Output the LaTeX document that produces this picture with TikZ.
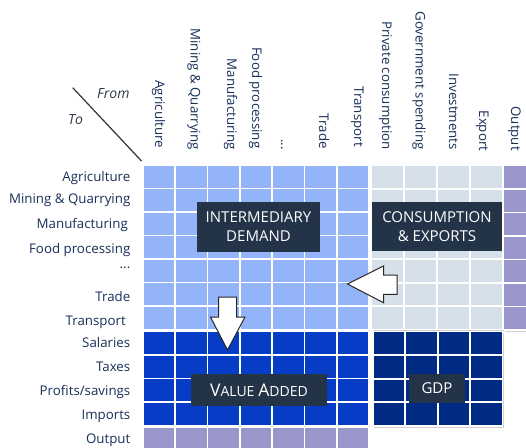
\documentclass[tikz,border=0pt]{standalone}
\usepackage{fontspec}
\setmainfont{Open Sans}
\usetikzlibrary{shadows}
\definecolor{interC}{HTML}{94B4FA}
\definecolor{consC}{HTML}{D6E0EA}
\definecolor{outC}{HTML}{9996CC}
\definecolor{vaC}{HTML}{073DC6}
\definecolor{gdpC}{HTML}{012A85}
\definecolor{boxC}{HTML}{233448}
\definecolor{labC}{HTML}{18305A}
\definecolor{lineC}{HTML}{333333}
\definecolor{cornerC}{HTML}{333B48}
\newcommand\gridblock[7]{%
  \fill[#7, blockshadow] (#1,#2) rectangle (#3,#4);
  \foreach \k in {0,...,#5}{\pgfmathsetmacro\gx{#1+\k*(#3-#1)/#5}\draw[gridline] (\gx,#2) -- (\gx,#4);}
  \foreach \k in {0,...,#6}{\pgfmathsetmacro\gy{#2+\k*(#4-#2)/#6}\draw[gridline] (#1,\gy) -- (#3,\gy);}
}
\begin{document}
\begin{tikzpicture}[x=1pt,y=-1pt,
  gridline/.style={white, line width=1.8pt},
  blockshadow/.style={drop shadow={shadow xshift=1.2pt,shadow yshift=-1.5pt,opacity=.3,fill=black!60}},
  rowlab/.style={anchor=base east, inner sep=0pt, text=labC, font=\fontsize{13.3}{16}\selectfont},
  collab/.style={rotate=-90, anchor=base east, inner sep=0pt, text=labC, font=\fontsize{13.3}{16}\selectfont},
  cornerlab/.style={anchor=base west, inner sep=0pt, text=cornerC, font=\fontsize{14}{16}\selectfont\itshape},
  labbox/.style={fill=boxC, text=white, align=center, inner sep=0pt, font=\fontsize{15}{19}\selectfont},
  blockarrow/.style={fill=white, draw=black!85, line width=1pt, line join=miter}
]
\useasboundingbox (0,0) rectangle (526,447);
\clip (0,0) rectangle (526,447);
\fill[white] (0,0) rectangle (526,447);

% blocks
\gridblock{143}{165}{369}{329.5}{7}{7}{interC}
\gridblock{371.5}{165.5}{502.5}{329.5}{4}{7}{consC}
\gridblock{503.5}{165.5}{536}{330}{1}{7}{outC}
\gridblock{143}{331}{369}{426}{7}{4}{vaC}
\gridblock{373}{331.5}{502.5}{426}{4}{4}{gdpC}
\gridblock{143}{427}{369}{450.5}{7}{1}{outC}

% corner
\coordinate (dstart) at (72.7,87.7);
\coordinate (dend) at (141.5,161);
\draw[lineC, line width=1.2pt] (dstart) -- (dend);
\node[cornerlab] (from) at (97,98) {From};
\node[cornerlab] (to) at (68,124) {To};

% column labels
\node[collab] (c1) at (155,148.5) {Agriculture};
\node[collab] (c2) at (190.5,150) {Mining \& Quarrying};
\node[collab] (c3) at (227,150) {Manufacturing};
\node[collab] (c4) at (252,148.5) {Food processing};
\node[collab] (c5) at (281,150) {...};
\node[collab] (c6) at (319,149) {Trade};
\node[collab] (c7) at (354,147) {Transport};
\node[collab] (c8) at (382,150) {Private consumption};
\node[collab] (c9) at (415.5,150) {Government spending};
\node[collab] (c10) at (449,150) {Investments};
\node[collab] (c11) at (479,151.5) {Export};
\node[collab] (c12) at (511,151) {Output};

% row labels
\node[rowlab] (r1) at (130.5,181) {Agriculture};
\node[rowlab] (r2) at (130.5,203) {Mining \& Quarrying};
\node[rowlab] (r3) at (128,228) {Manufacturing};
\node[rowlab] (r4) at (130.5,253) {Food processing};
\node[rowlab] (r5) at (130.5,268) {...};
\node[rowlab] (r6) at (130.5,301) {Trade};
\node[rowlab] (r7) at (126,325) {Transport};
\node[rowlab] (r8) at (130.5,347) {Salaries};
\node[rowlab] (r9) at (130.5,371) {Taxes};
\node[rowlab] (r10) at (130.5,395) {Profits/savings};
\node[rowlab] (r11) at (130.5,419) {Imports};
\node[rowlab] (r12) at (130.5,443) {Output};

% block arrows
\draw[blockarrow] (218.5,297) -- (236.5,297) -- (236.5,317) -- (245,317) -- (227.5,350) -- (210.5,317) -- (218.5,317) -- cycle;
\draw[blockarrow] (347.5,284) -- (383.5,266) -- (383.5,275) -- (397,275) -- (397,294.3) -- (383.5,294.3) -- (383.5,302.7) -- cycle;

% label boxes
\node[labbox, minimum width=123pt, minimum height=50pt] (inter) at (258.5,227) {INTERMEDIARY\\DEMAND};
\node[labbox, minimum width=130pt, minimum height=49.5pt] (cons) at (437,226.5) {CONSUMPTION\\\& EXPORTS};
\node[labbox, minimum width=136pt, minimum height=32pt] (va) at (259,390) {{\fontsize{17.5}{19}\selectfont V}{\fontsize{14}{19}\selectfont ALUE} {\fontsize{17.5}{19}\selectfont A}{\fontsize{14}{19}\selectfont DDED}};
\node[labbox, minimum width=56pt, minimum height=29pt] (gdp) at (437,388.5) {GDP};
\end{tikzpicture}
\end{document}
